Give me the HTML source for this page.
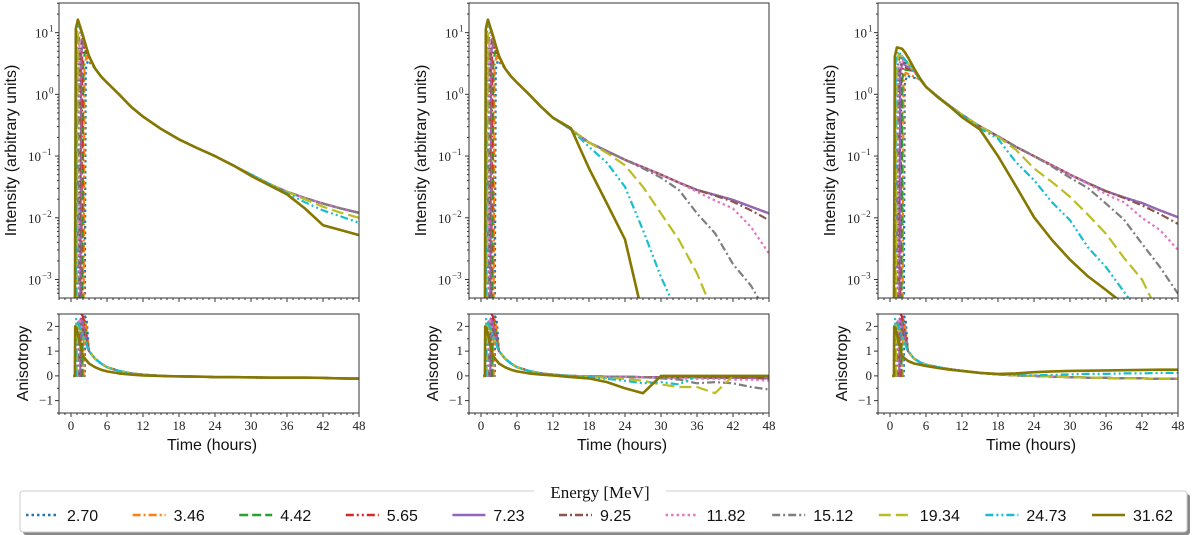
<!DOCTYPE html>
<html><head><meta charset="utf-8"><style>
html,body{margin:0;padding:0;background:#fff;}
svg{display:block;}
.tk{font-family:"Liberation Serif",serif;font-size:13px;fill:#222;}
.lab{font-family:"Liberation Sans",sans-serif;font-size:16px;fill:#111;}
.leg{font-family:"Liberation Sans",sans-serif;font-size:16px;fill:#111;}
</style></head><body>
<svg id="fig" width="1200" height="535" viewBox="0 0 1200 535" xmlns="http://www.w3.org/2000/svg">
<defs>
<clipPath id="c0t"><rect x="59" y="3" width="300" height="295"/></clipPath>
<clipPath id="c1t"><rect x="469" y="3" width="300" height="295"/></clipPath>
<clipPath id="c2t"><rect x="878" y="3" width="300" height="295"/></clipPath>
<clipPath id="c0b"><rect x="59" y="314" width="300" height="99"/></clipPath>
<clipPath id="c1b"><rect x="469" y="314" width="300" height="99"/></clipPath>
<clipPath id="c2b"><rect x="878" y="314" width="300" height="99"/></clipPath>
</defs>
</svg>
<script>
// ---- data ----
const energies = ["2.70","3.46","4.42","5.65","7.23","9.25","11.82","15.12","19.34","24.73","31.62"];
const onsetHours = [2.3,2.1,1.9,1.7,1.55,1.4,1.25,1.1,0.95,0.8,0.65];
const peakLogP12 = [0.55,0.62,0.7,0.76,0.83,0.9,0.96,1.02,1.08,1.14,1.21];
const peakLogP3 = [0.3,0.35,0.4,0.45,0.5,0.52,0.56,0.6,0.65,0.7,0.76];
const decayHours = [2,2.5,3,4,5,6,8,10,12,15,18,21,24,27,30,33,36,39,42,45,48];
// log10 intensity on decayHours
const p1Common = [0.95,0.78,0.62,0.42,0.29,0.19,0.0,-0.2,-0.36,-0.56,-0.73,-0.87,-1.0,-1.15,-1.3,-1.45,-1.58,-1.68,-1.77,-1.85,-1.92];
const p1Yellow = [0.95,0.78,0.62,0.42,0.29,0.19,0.0,-0.2,-0.36,-0.56,-0.73,-0.87,-1.0,-1.15,-1.3,-1.45,-1.58,-1.7,-1.82,-1.92,-2.0];
const p1Cyan = [0.95,0.78,0.62,0.42,0.29,0.19,0.0,-0.2,-0.36,-0.56,-0.73,-0.87,-1.0,-1.15,-1.3,-1.45,-1.6,-1.75,-1.88,-1.98,-2.08];
const p1Olive = [0.95,0.78,0.62,0.42,0.29,0.19,0.0,-0.2,-0.36,-0.56,-0.73,-0.87,-1.0,-1.15,-1.32,-1.47,-1.62,-1.85,-2.12,-2.2,-2.28];
const p2Common = [0.95,0.78,0.62,0.42,0.29,0.19,0.0,-0.2,-0.38,-0.57,-0.78,-0.92,-1.06,-1.18,-1.3,-1.43,-1.55,-1.63,-1.71,-1.82,-1.93];
const p2Brown = [0.95,0.78,0.62,0.42,0.29,0.19,0.0,-0.2,-0.38,-0.57,-0.78,-0.92,-1.06,-1.18,-1.3,-1.43,-1.55,-1.64,-1.74,-1.88,-2.04];
const p2Pink = [0.95,0.78,0.62,0.42,0.29,0.19,0.0,-0.2,-0.38,-0.57,-0.78,-0.92,-1.06,-1.18,-1.3,-1.43,-1.58,-1.72,-1.85,-2.15,-2.58];
const p2Gray = [0.95,0.78,0.62,0.42,0.29,0.19,0.0,-0.2,-0.38,-0.57,-0.78,-0.92,-1.06,-1.2,-1.35,-1.55,-1.93,-2.25,-2.75,-3.1,-3.6];
const p2Yellow = [0.95,0.78,0.62,0.42,0.29,0.19,0.0,-0.2,-0.38,-0.57,-0.78,-0.95,-1.15,-1.5,-1.93,-2.36,-2.9,-3.6,-3.6,-3.6,-3.6];
const p2Cyan = [0.95,0.78,0.62,0.42,0.29,0.19,0.0,-0.2,-0.38,-0.57,-0.85,-1.11,-1.5,-2.2,-2.96,-3.6,-3.6,-3.6,-3.6,-3.6,-3.6];
const p2Olive = [0.95,0.78,0.62,0.42,0.29,0.19,0.0,-0.2,-0.38,-0.55,-1.2,-1.77,-2.35,-3.6,-3.6,-3.6,-3.6,-3.6,-3.6,-3.6,-3.6];
const p3Common = [0.62,0.56,0.5,0.38,0.24,0.12,-0.04,-0.19,-0.33,-0.52,-0.68,-0.85,-1.0,-1.15,-1.3,-1.44,-1.57,-1.67,-1.76,-1.88,-1.99];
const p3Brown = [0.62,0.56,0.5,0.38,0.24,0.12,-0.04,-0.19,-0.33,-0.52,-0.68,-0.85,-1.0,-1.15,-1.3,-1.44,-1.57,-1.68,-1.8,-1.94,-2.1];
const p3Pink = [0.62,0.56,0.5,0.38,0.24,0.12,-0.04,-0.19,-0.33,-0.52,-0.68,-0.85,-1.0,-1.15,-1.3,-1.45,-1.62,-1.75,-2.0,-2.2,-2.52];
const p3Gray = [0.62,0.56,0.5,0.38,0.24,0.12,-0.04,-0.19,-0.33,-0.52,-0.68,-0.85,-1.0,-1.17,-1.35,-1.52,-1.77,-2.03,-2.42,-2.8,-3.23];
const p3Yellow = [0.62,0.56,0.5,0.38,0.24,0.12,-0.04,-0.19,-0.33,-0.52,-0.69,-0.9,-1.2,-1.42,-1.66,-1.95,-2.26,-2.65,-3.0,-3.6,-3.6];
const p3Cyan = [0.62,0.56,0.5,0.38,0.24,0.12,-0.04,-0.19,-0.34,-0.55,-0.72,-1.1,-1.39,-1.75,-2.04,-2.48,-2.8,-3.2,-3.6,-3.6,-3.6];
const p3Olive = [0.74,0.68,0.6,0.42,0.26,0.12,-0.05,-0.2,-0.37,-0.57,-1.0,-1.49,-1.99,-2.36,-2.68,-2.95,-3.17,-3.4,-3.6,-3.6,-3.6];
const anisoHours = [2,3,4,5,6,8,10,12,15,18,21,24,27,30,33,36,39,42,45,48];
const aP1Common = [1.6,1.0,0.7,0.5,0.35,0.2,0.1,0.05,0.0,-0.02,-0.03,-0.05,-0.05,-0.06,-0.07,-0.07,-0.08,-0.08,-0.1,-0.12];
const aP1Olive = [0.8,0.5,0.35,0.25,0.18,0.1,0.05,0.02,0.0,-0.02,-0.03,-0.05,-0.05,-0.06,-0.07,-0.07,-0.07,-0.08,-0.1,-0.1];
const aP2Common = [1.6,1.0,0.7,0.5,0.35,0.2,0.1,0.05,0.0,-0.02,-0.03,-0.04,-0.05,-0.05,-0.06,-0.06,-0.07,-0.07,-0.08,-0.1];
const aP2Pink = [1.6,1.0,0.7,0.5,0.35,0.2,0.1,0.05,0.0,-0.02,-0.03,-0.04,-0.05,-0.08,-0.1,-0.12,-0.12,-0.15,-0.15,-0.2];
const aP2Gray = [1.6,1.0,0.7,0.5,0.35,0.2,0.1,0.05,0.0,-0.02,-0.03,-0.04,-0.05,-0.1,-0.15,-0.3,-0.25,-0.3,-0.45,-0.55];
const aP2Yellow = [1.6,1.0,0.7,0.5,0.35,0.2,0.1,0.05,0.0,-0.03,-0.08,-0.12,-0.2,-0.35,-0.45,-0.45,-0.7,0.0,0.0,0.0];
const aP2Cyan = [1.6,1.0,0.7,0.5,0.35,0.2,0.1,0.05,0.0,-0.05,-0.12,-0.2,-0.3,-0.25,-0.35,0.0,0.0,0.0,0.0,0.0];
const aP2Olive = [0.8,0.5,0.35,0.25,0.18,0.1,0.05,0.02,-0.05,-0.1,-0.25,-0.5,-0.7,0.0,0.0,0.0,0.0,0.0,0.0,0.0];
const aP3Common = [1.6,1.0,0.7,0.55,0.45,0.35,0.27,0.2,0.12,0.06,0.02,0.0,-0.03,-0.05,-0.07,-0.08,-0.1,-0.1,-0.12,-0.12];
const aP3Cyan = [1.6,1.0,0.7,0.55,0.45,0.35,0.27,0.2,0.12,0.06,0.03,0.02,0.04,0.06,0.08,0.08,0.1,0.1,0.12,0.12];
const aP3Olive = [0.8,0.6,0.5,0.45,0.4,0.32,0.25,0.2,0.12,0.08,0.1,0.15,0.18,0.2,0.21,0.22,0.23,0.24,0.25,0.25];

const intensityPanels = [
  [p1Common,p1Common,p1Common,p1Common,p1Common,p1Common,p1Common,p1Common,p1Yellow,p1Cyan,p1Olive],
  [p2Common,p2Common,p2Common,p2Common,p2Common,p2Brown,p2Pink,p2Gray,p2Yellow,p2Cyan,p2Olive],
  [p3Common,p3Common,p3Common,p3Common,p3Common,p3Brown,p3Pink,p3Gray,p3Yellow,p3Cyan,p3Olive]];
const anisoPanels = [
  [aP1Common,aP1Common,aP1Common,aP1Common,aP1Common,aP1Common,aP1Common,aP1Common,aP1Common,aP1Common,aP1Olive],
  [aP2Common,aP2Common,aP2Common,aP2Common,aP2Common,aP2Common,aP2Pink,aP2Gray,aP2Yellow,aP2Cyan,aP2Olive],
  [aP3Common,aP3Common,aP3Common,aP3Common,aP3Common,aP3Common,aP3Common,aP3Common,aP3Common,aP3Cyan,aP3Olive]];
const peakPanels = [peakLogP12, peakLogP12, peakLogP3];
const anisoPeak = [2.4,2.3,2.2,2.5,2.3,2.2,2.3,2.2,2.1,2.3,2.0];
const xTicks = [0,6,12,18,24,30,36,42,48];
const yLogTicks = [1,0,-1,-2,-3];
const anisoTicks = [2,1,0,-1];

// ---- styles ----
const colors = ["#1f77b4","#ff7f0e","#2ca02c","#d62728","#9467bd","#8c564b","#e377c2","#7f7f7f","#bcbd22","#17becf","#857700"];
const dashes = ["2.5,3","8,3,2,3","9,4","8,3,2,3,2,3","","8,3,2,3","2.5,3","8,3,2,3","12,5","8,3,2,3,2,3",""];
const NS = "http://www.w3.org/2000/svg";
const svg = document.getElementById("fig");
function mk(tag, attrs, parent){ const e=document.createElementNS(NS,tag); for(const k in attrs) e.setAttribute(k,attrs[k]); (parent||svg).appendChild(e); return e; }

const lefts = [59,469,878];
const W = 300, topY = 3, topH = 295, botY = 314, botH = 99;
const XMIN=-2, XMAX=48, YLMAX=1.48, YLMIN=-3.3, AMAX=2.5, AMIN=-1.5;

lefts.forEach((L, p) => {
  const xs = t => L + (t - XMIN) / (XMAX - XMIN) * W;
  const ys = v => topY + (YLMAX - v) / (YLMAX - YLMIN) * topH;
  const ya = v => botY + (AMAX - v) / (AMAX - AMIN) * botH;
  const g = mk("g", {});
  
  
  const gi = mk("g", {"clip-path":"url(#c"+p+"t)"}, g);
  
  
  const ga = mk("g", {"clip-path":"url(#c"+p+"b)"}, g);
  
  
  for (let s = 0; s < energies.length; s++) {
    const on = onsetHours[s], pkT = on + 0.5, pk = peakPanels[p][s];
    let pts = [[on, -3.6],[on+0.15, pk-0.15],[pkT, pk]];
    const arr = intensityPanels[p][s];
    decayHours.forEach((t,i) => { if (t > pkT + 0.3 && arr[i] < pk) pts.push([t, arr[i]]); });
    const d = pts.map((q,i)=>(i?"L":"M")+xs(q[0]).toFixed(1)+","+ys(q[1]).toFixed(1)).join("");
    const path = mk("path", {d:d, fill:"none", stroke:colors[s], "stroke-width": s==10?2.6:2.2, "stroke-dasharray":dashes[s], "stroke-linejoin":"round"}, gi);
    
    
    let ap = [[on-0.3,0],[on,0],[on+0.05,anisoPeak[s]],[on+0.3,anisoPeak[s]-0.1]];
    const aa = anisoPanels[p][s];
    anisoHours.forEach((t,i) => { if (t > on + 0.6) ap.push([t, aa[i]]); });
    const d2 = ap.map((q,i)=>(i?"L":"M")+xs(q[0]).toFixed(1)+","+ya(q[1]).toFixed(1)).join("");
    const pa = mk("path", {d:d2, fill:"none", stroke:colors[s], "stroke-width": s==10?2.6:2.2, "stroke-dasharray":dashes[s], "stroke-linejoin":"round"}, ga);
    
    
  }
  const f1 = mk("rect", {x:L,y:topY,width:W,height:topH,fill:"none",stroke:"#333","stroke-width":1}, g);
  
  
  const f2 = mk("rect", {x:L,y:botY,width:W,height:botH,fill:"none",stroke:"#333","stroke-width":1}, g);
  
  
  for (let t = -2; t <= 48; t++) {
    const major = xTicks.includes(t);
    [topY+topH, botY+botH].forEach(yb => {
      mk("line", {x1:xs(t),x2:xs(t),y1:yb,y2:yb+(major?4:2),stroke:"#333","stroke-width":1}, g);
    });
  }
  xTicks.forEach(t => {
    const tx = mk("text", {x:xs(t), y:botY+botH+17, "text-anchor":"middle", class:"tk"}, g);
    tx.textContent = t;
    
    
  });
  for (let dec = -4; dec <= 1; dec++) {
    for (let m = 1; m <= 9; m++) {
      const v = dec + Math.log10(m);
      if (v < YLMIN || v > YLMAX) continue;
      mk("line", {x1:L-(m==1?4:2),x2:L,y1:ys(v),y2:ys(v),stroke:"#333","stroke-width":1}, g);
    }
  }
  yLogTicks.forEach(v => {
    const ex = v < 0 ? "\u2212" + (-v) : String(v);
    const exw = v < 0 ? 12 : 5;
    const tx = mk("text", {x:L-6-exw, y:ys(v)+5, "text-anchor":"end", class:"tk"}, g);
    tx.textContent = "10";
    
    
    const sp = mk("text", {x:L-5-exw, y:ys(v)-1, "text-anchor":"start", class:"tk"}, g);
    sp.setAttribute("style","font-size:9px");
    sp.textContent = ex;
    
    
  });
  for (let v = -1.5; v <= 2.5; v += 0.5) {
    mk("line", {x1:L-(Number.isInteger(v)?4:2),x2:L,y1:ya(v),y2:ya(v),stroke:"#333","stroke-width":1}, g);
  }
  anisoTicks.forEach(v => {
    const tx = mk("text", {x:L-6, y:ya(v)+4, "text-anchor":"end", class:"tk"}, g);
    tx.textContent = v < 0 ? "\u2212" + (-v) : String(v);
    
    
  });
  const yl = mk("text", {x:0,y:0,transform:"translate("+(L-43)+","+(topY+topH/2)+") rotate(-90)","text-anchor":"middle",class:"lab"}, g);
  yl.textContent = "Intensity (arbitrary units)";
  
  
  const al = mk("text", {x:0,y:0,transform:"translate("+(L-31)+","+(botY+botH/2)+") rotate(-90)","text-anchor":"middle",class:"lab"}, g);
  al.textContent = "Anisotropy";
  
  
  const xl = mk("text", {x:L+W/2+3, y:450, "text-anchor":"middle", class:"lab"}, g);
  xl.textContent = "Time (hours)";
  
  
});

const lg = mk("g", {});


mk("rect", {x:23,y:494,width:1167,height:41,rx:3,fill:"#888"}, lg);
mk("rect", {x:20,y:491,width:1167,height:41,rx:3,fill:"#fff",stroke:"#ccc","stroke-width":1}, lg);
mk("rect", {x:534,y:485,width:132,height:12,fill:"#fff"}, lg);
const lt = mk("text", {x:600,y:498,"text-anchor":"middle","font-family":"Liberation Serif, serif","font-size":"17px",fill:"#111"}, lg);
lt.textContent = "Energy [MeV]";


energies.forEach((e, i) => {
  const x0 = 26 + i * 106.6;
  const eg = mk("g", {}, lg);
  
  
  mk("line", {x1:x0,x2:x0+33,y1:515,y2:515,stroke:colors[i],"stroke-width":2.6,"stroke-dasharray":dashes[i]}, eg);
  const t = mk("text", {x:x0+41,y:521,class:"leg"}, eg);
  t.textContent = e;
});
</script>
</body></html>
